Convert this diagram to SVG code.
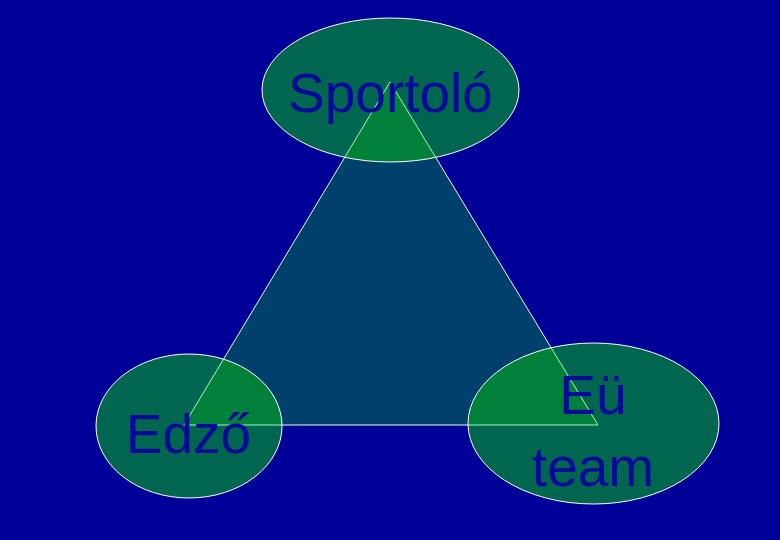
<svg xmlns="http://www.w3.org/2000/svg" width="780" height="540" viewBox="0 0 780 540">
<style>
.ell{fill:#006650;stroke:none}
.ring{fill:none;stroke:#ffffff;stroke-width:1}
.lbl{font-family:"Liberation Sans",Arial,sans-serif;font-size:55px;fill:#000a99;text-anchor:middle}
</style>
<defs>
<clipPath id="inEll">
<ellipse cx="390.5" cy="90" rx="128.5" ry="72"/>
<ellipse cx="189" cy="426" rx="93" ry="72"/>
<ellipse cx="593.5" cy="423.5" rx="125.5" ry="80.5"/>
</clipPath>
</defs>
<rect x="0" y="0" width="780" height="540" fill="#000099"/>
<g id="triangle">
<polygon points="390,82 184,425 598,425" fill="#00406c" stroke="#e8ffe8" stroke-width="1"/>
</g>
<g id="ellipses">
<ellipse class="ell" cx="390.5" cy="90" rx="128.5" ry="72"/>
<ellipse class="ell" cx="189" cy="426" rx="93" ry="72"/>
<ellipse class="ell" cx="593.5" cy="423.5" rx="125.5" ry="80.5"/>
</g>
<g id="overlap" clip-path="url(#inEll)">
<polygon points="390,82 184,425 598,425" fill="#008038" stroke="#99ffbb" stroke-width="1"/>
</g>
<g id="rings">
<ellipse class="ring" cx="390.5" cy="90" rx="128.5" ry="72"/>
<ellipse class="ring" cx="189" cy="426" rx="93" ry="72"/>
<ellipse class="ring" cx="593.5" cy="423.5" rx="125.5" ry="80.5"/>
</g>
<g id="node-sportolo"><text class="lbl" x="390.5" y="112">Sportoló</text></g>
<g id="node-edzo"><text class="lbl" x="188.5" y="453" font-size="53">Edző</text></g>
<g id="node-eu"><text class="lbl" x="593" y="414">Eü</text><text class="lbl" x="593" y="486">team</text></g>
</svg>
